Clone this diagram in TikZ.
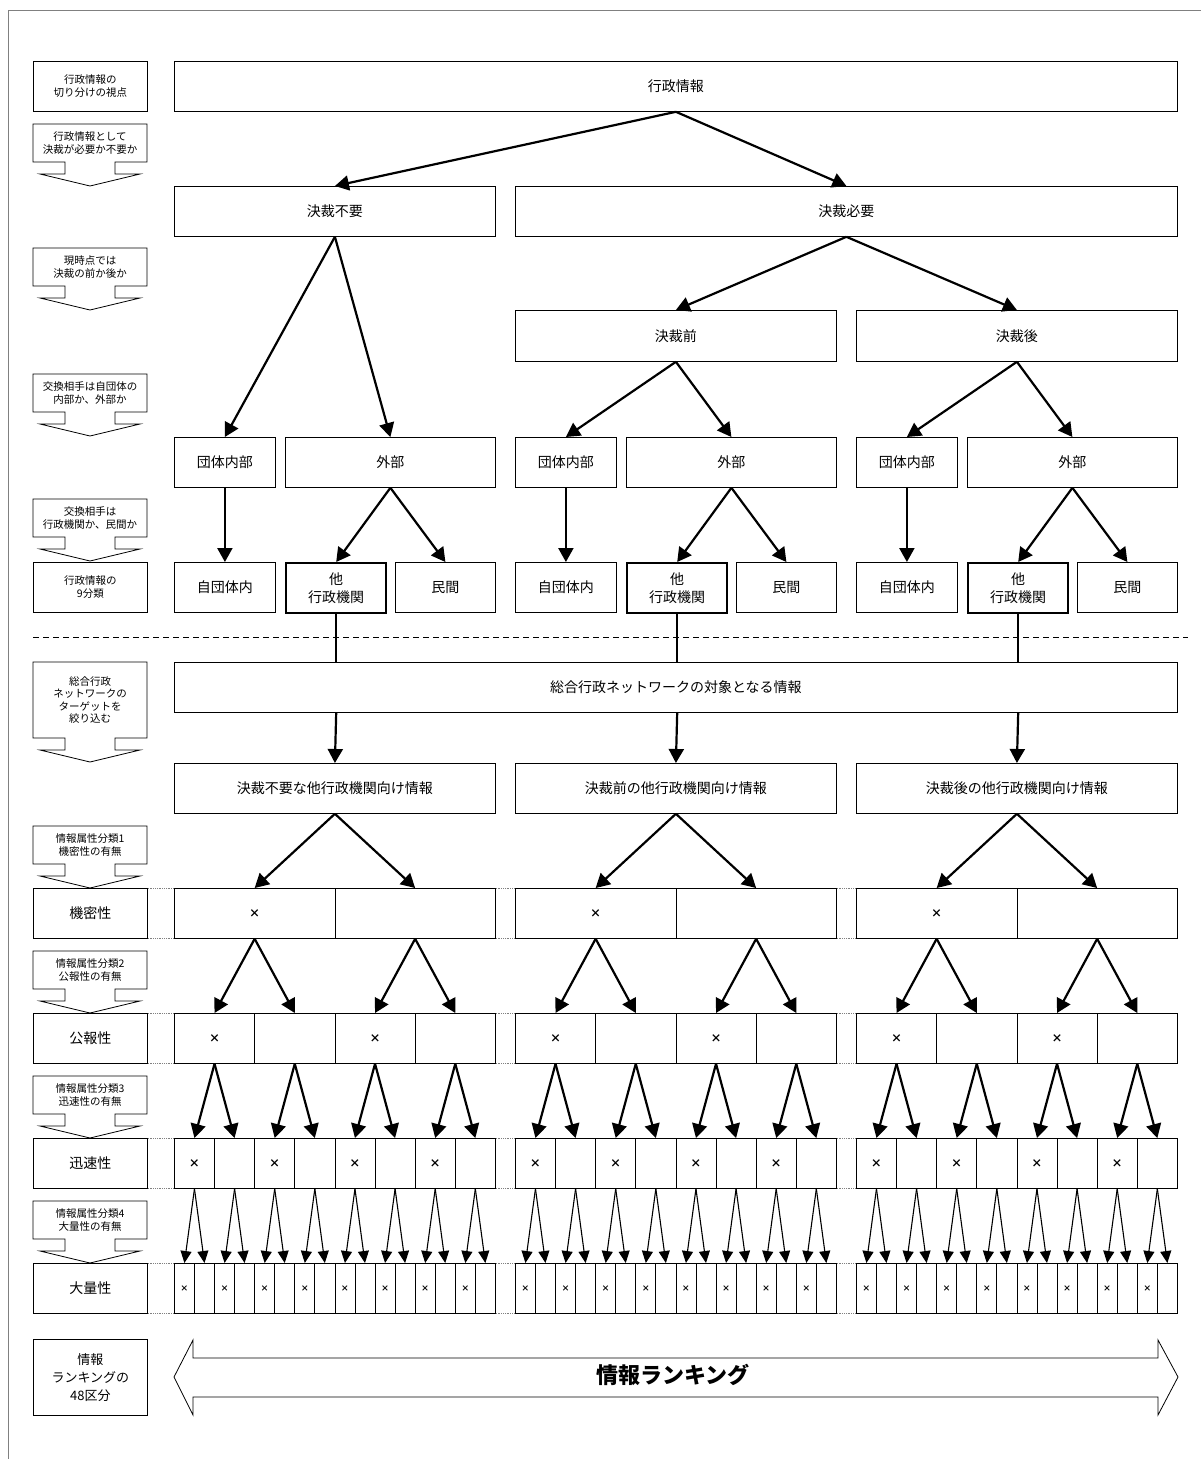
\documentclass[tikz,border=0pt]{standalone}
\usepackage{fontspec}
\setmainfont{Noto Sans CJK JP}
\usetikzlibrary{arrows.meta}

\begin{document}
\begin{tikzpicture}[x=1pt, y=-1pt,
    caja/.style={draw, line width=0.8pt, anchor=north west, inner sep=0pt, align=center, font=\fontsize{14}{18}\selectfont},
    cajagruesa/.style={caja, line width=2.4pt},
    celda/.style={caja, minimum height=50pt, font=\fontsize{11}{12}\selectfont\bfseries},
    etiqueta/.style={caja, minimum width=114pt, font=\fontsize{10.5}{13}\selectfont},
    flecha/.style={line width=2.2pt, -{Triangle[width=15pt,length=14pt]}},
    flechafina/.style={line width=1.1pt, -{Triangle[width=11pt,length=12pt]}},
    guia/.style={draw, line width=0.8pt, fill=white},
    punteado/.style={gray, line width=0.8pt, densely dotted}]

% Marco
\useasboundingbox (0,0) rectangle (1201,1459);
\draw[gray, line width=1pt] (8,1459) -- (8,10) -- (1201,10);

% Columna izquierda: cajas
\node[etiqueta, minimum height=50pt] (e0) at (33,61) {行政情報の\\切り分けの視点};
\node[etiqueta, minimum height=50pt] (e9) at (33,562) {行政情報の\\9分類};
\node[etiqueta, minimum height=76pt, font=\fontsize{13}{18}\selectfont] (e48) at (33,1339) {情報\\ランキングの\\48区分};

% Columna izquierda: flechas guía
\foreach \y/\h/\txt [count=\i] in {124/38/{行政情報として\\決裁が必要か不要か},
    248/38/{現時点では\\決裁の前か後か}, 374/38/{交換相手は自団体の\\内部か、外部か},
    499/38/{交換相手は\\行政機関か、民間か}, 662/76/{総合行政\\ネットワークの\\ターゲットを\\絞り込む},
    826/38/{情報属性分類1\\機密性の有無}, 951/38/{情報属性分類2\\公報性の有無},
    1076/38/{情報属性分類3\\迅速性の有無}, 1201/38/{情報属性分類4\\大量性の有無}} {
  \draw[guia] (33,\y) -- (147,\y) -- (147,\y+\h) -- (115,\y+\h) -- (115,\y+\h+12) -- (140,\y+\h+12)
    -- (90,\y+\h+24) -- (40,\y+\h+12) -- (65,\y+\h+12) -- (65,\y+\h) -- (33,\y+\h) -- cycle;
  \node[font=\fontsize{10.5}{12.5}\selectfont, align=center] (g\i) at (90,\y+\h/2) {\txt};
}

% Cajas superiores
\node[caja, minimum width=1003pt, minimum height=50pt] (gyosei) at (174,61) {行政情報};
\node[caja, minimum width=321pt, minimum height=50pt] (fuyo) at (174,186) {決裁不要};
\node[caja, minimum width=662pt, minimum height=50pt] (hitsuyo) at (515,186) {決裁必要};
\node[caja, minimum width=321pt, minimum height=51pt] (mae) at (515,310) {決裁前};
\node[caja, minimum width=321pt, minimum height=51pt] (ato) at (856,310) {決裁後};
\node[caja, minimum width=1003pt, minimum height=50pt] (sogo) at (174,662) {総合行政ネットワークの対象となる情報};

% Separador
\draw[line width=0.8pt, dash pattern=on 6pt off 4pt] (33,637) -- (1188,637);

% Nueve clases
\foreach \x/\i in {174/1, 515/2, 856/3} {
  \node[caja, minimum width=101pt, minimum height=50pt] (dan\i) at (\x,437) {団体内部};
  \node[caja, minimum width=210pt, minimum height=50pt] (gai\i) at (\x+111,437) {外部};
  \node[caja, minimum width=101pt, minimum height=50pt] (ji\i) at (\x,562) {自団体内};
  \node[cajagruesa, minimum width=100pt, minimum height=50pt] (ta\i) at (\x+111,562) {他\\行政機関};
  \node[caja, minimum width=100pt, minimum height=50pt] (min\i) at (\x+221,562) {民間};
  \draw[flecha] (dan\i) -- (ji\i);
  \draw[flecha] (gai\i.south) -- (ta\i.north);
  \draw[flecha] (gai\i.south) -- (min\i.north);
  \draw[line width=2.2pt] (ta\i.south) -- (ta\i.south |- sogo.north);
}

% Flechas superiores
\draw[flecha] (gyosei.south) -- (fuyo.north);
\draw[flecha] (gyosei.south) -- (hitsuyo.north);
\draw[flecha] (fuyo.south) -- (dan1.north);
\draw[flecha] (fuyo.south) -- (gai1.north);
\draw[flecha] (hitsuyo.south) -- (mae.north);
\draw[flecha] (hitsuyo.south) -- (ato.north);
\draw[flecha] (mae.south) -- (dan2.north);
\draw[flecha] (mae.south) -- (gai2.north);
\draw[flecha] (ato.south) -- (dan3.north);
\draw[flecha] (ato.south) -- (gai3.north);

% Información para otros organismos
\foreach \x/\i/\txt in {174/1/決裁不要な他行政機関向け情報, 515/2/決裁前の他行政機関向け情報, 856/3/決裁後の他行政機関向け情報} {
  \node[caja, minimum width=321pt, minimum height=50pt] (m\i) at (\x,763) {\txt};
  \draw[flecha] (ta\i.south |- sogo.south) -- (m\i.north);
}

% Filas de atributos
\foreach \fila/\y/\txt in {1/888/機密性, 2/1013/公報性, 3/1138/迅速性, 4/1263/大量性} {
  \node[etiqueta, minimum height=50pt, font=\fontsize{14}{16}\selectfont] (l\fila) at (33,\y) {\txt};
  \pgfmathtruncatemacro\nc{2^\fila}
  \pgfmathtruncatemacro\tot{3*\nc-1}
  \pgfmathsetmacro\ancho{321/\nc}
  \foreach \j in {0,...,\tot} {
    \pgfmathtruncatemacro\grupo{\j/\nc}
    \pgfmathtruncatemacro\pos{mod(\j,\nc)}
    \pgfmathtruncatemacro\impar{mod(\j,2)}
    \node[celda, minimum width=\ancho pt] (c\fila-\j) at (174+341*\grupo+\pos*\ancho,\y)
      {\ifnum\impar=0 \ifnum\fila=4 \fontsize{8}{9}\selectfont\fi ×\fi};
  }
  \draw[punteado] (l\fila.north east) -- (c\fila-0.north west) (l\fila.south east) -- (c\fila-0.south west);
  \foreach \g in {1,2} {
    \pgfmathtruncatemacro\ult{\g*\nc-1}
    \pgfmathtruncatemacro\pri{\g*\nc}
    \draw[punteado] (c\fila-\ult.north east) -- (c\fila-\pri.north west)
      (c\fila-\ult.south east) -- (c\fila-\pri.south west);
  }
}

% Flechas entre filas
\foreach \i in {1,2,3} {
  \pgfmathtruncatemacro\ia{2*\i-2}
  \pgfmathtruncatemacro\ib{2*\i-1}
  \draw[flecha] (m\i.south) -- (c1-\ia.north);
  \draw[flecha] (m\i.south) -- (c1-\ib.north);
}
\foreach \fila/\est in {1/flecha, 2/flecha, 3/flechafina} {
  \pgfmathtruncatemacro\sig{\fila+1}
  \pgfmathtruncatemacro\tot{3*2^\fila-1}
  \foreach \j in {0,...,\tot} {
    \pgfmathtruncatemacro\ia{2*\j}
    \pgfmathtruncatemacro\ib{2*\j+1}
    \draw[\est] (c\fila-\j.south) -- (c\sig-\ia.north);
    \draw[\est] (c\fila-\j.south) -- (c\sig-\ib.north);
  }
}

% Flecha doble de la clasificación
\draw[line width=0.8pt] (174,1377) -- (193,1340) -- (193,1358) -- (1158,1358) -- (1158,1340) -- (1178,1377)
  -- (1158,1415) -- (1158,1397) -- (193,1397) -- (193,1415) -- cycle;
\node[font=\fontsize{22}{24}\selectfont\bfseries] (ranking) at (673,1375) {情報ランキング};
\end{tikzpicture}
\end{document}
